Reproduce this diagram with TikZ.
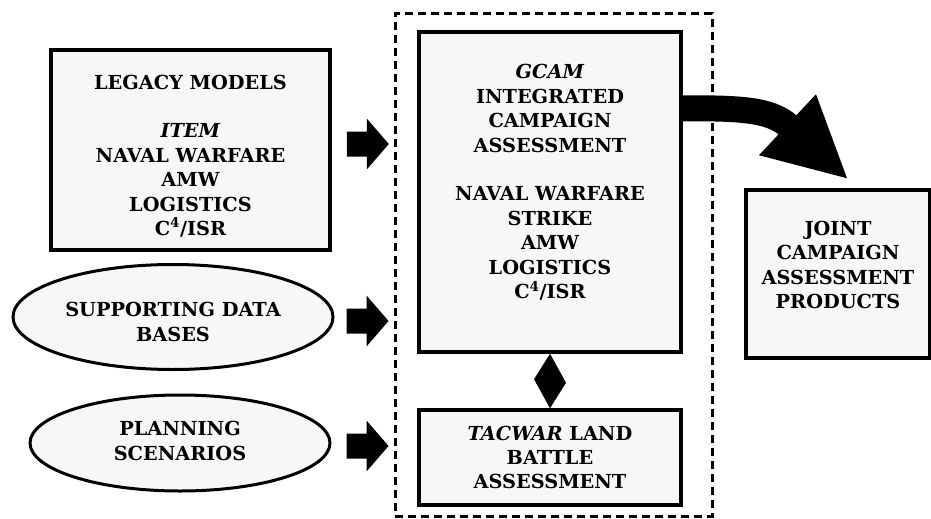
\documentclass[tikz,border=0pt]{standalone}
\usepackage{fontspec}
\setmainfont{DejaVu Serif}
\usetikzlibrary{shapes.geometric,calc}
\newcommand\blkarrow[1]{\fill (#1) ++(0,-12.5) -- ++(20,0) -- ++(0,-13) -- ++(22,25.5) -- ++(-22,25.5) -- ++(0,-13) -- ++(-20,0) -- cycle;}
\begin{document}
\begin{tikzpicture}[x=1pt,y=-1pt,
  lbl/.style={font=\bfseries\fontsize{19.3}{24.4}\selectfont, align=center, inner sep=0pt},
  box/.style={draw, line width=3.5pt, fill=black!3, inner sep=0pt},
  oval/.style={ellipse, draw, line width=3pt, fill=black!3, inner sep=0pt},
  frame/.style={draw, dash pattern=on 8pt off 5pt, line width=3pt, inner sep=0pt}]
\useasboundingbox (0,0) rectangle (931,519);
% dashed frame
\node[frame, minimum width=317pt, minimum height=502pt] (frame) at (553.5,265) {};
% boxes
\node[box, minimum width=279pt, minimum height=200pt] (legacy) at (190.5,150) {};
\node[lbl] (legacyt) at ($(legacy)+(0,6)$)
  {LEGACY MODELS\\[24.4pt]\textit{ITEM}\\NAVAL WARFARE\\AMW\\LOGISTICS\\C\textsuperscript{4}/ISR};
\node[oval, minimum width=320pt, minimum height=105pt] (sup) at (173,317) {};
\node[lbl] (supt) at ($(sup)+(0,5)$) {SUPPORTING DATA\\BASES};
\node[oval, minimum width=300pt, minimum height=96pt] (plan) at (180,443) {};
\node[lbl] (plant) at ($(plan)+(0,-2)$) {PLANNING\\SCENARIOS};
\node[box, minimum width=262pt, minimum height=320pt] (gcam) at (550,192) {};
\node[lbl] (gcamt) at ($(gcam)+(0,-9.5)$)
  {\textit{GCAM}\\INTEGRATED\\CAMPAIGN\\ASSESSMENT\\[24.4pt]NAVAL WARFARE\\STRIKE\\AMW\\LOGISTICS\\C\textsuperscript{4}/ISR};
\node[box, minimum width=262pt, minimum height=95pt] (tacwar) at (550,457.5) {};
\node[lbl] (tacwart) at (tacwar) {\textit{TACWAR} LAND\\BATTLE\\ASSESSMENT};
\node[box, minimum width=184pt, minimum height=168pt] (joint) at (838,274) {};
\node[lbl] (jointt) at ($(joint)+(0,-9)$) {JOINT\\CAMPAIGN\\ASSESSMENT\\PRODUCTS};
% block arrows into the frame
\blkarrow{$(legacy.east)+(15,-6)$}
\blkarrow{$(sup.east)+(12,4)$}
\blkarrow{$(plan.east)+(15,3)$}
% double arrow between GCAM and TACWAR
\fill (gcam.south) -- ++(16,29) -- (tacwar.north) -- ++(-16,-29) -- cycle;
% curved arrow to joint products
\coordinate (cs) at ($(gcam.north east)+(-1,78)$);
\coordinate (tip) at ($(joint.north)+(9,-10)$);
\coordinate (bm) at ($(tip)+(-59.5,-53.5)$);
\draw[line width=26pt] (cs) .. controls +(55,0) and +(-19,-17) .. ($(bm)+(1,1)$);
\fill ($(tip)+(-88,-23)$) -- ($(tip)+(-31,-84)$) -- (tip) -- cycle;
\end{tikzpicture}
\end{document}
